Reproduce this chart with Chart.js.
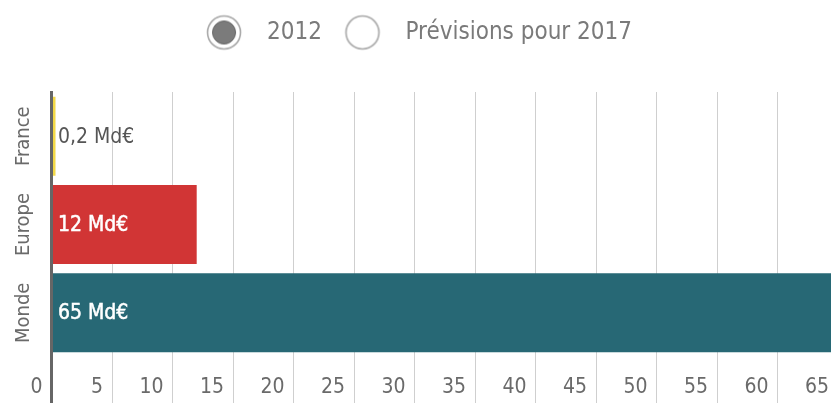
<!DOCTYPE html>
<html>
<head>
<meta charset="utf-8">
<script src="https://cdn.jsdelivr.net/npm/chart.js@4/dist/chart.umd.min.js"></script>
<style>
  html, body { margin: 0; padding: 0; background: #fff; overflow: hidden; }
  #wrap { width: 838px; height: 403px; }
</style>
</head>
<body>
<div id="wrap"><canvas id="myChart" width="838" height="403"></canvas></div>
<script>
const categories = ['France', 'Europe', 'Monde'];
const values2012 = [0.2, 12, 65];
const valueLabels = ['0,2 Md€', '12 Md€', '65 Md€'];
const barColors = ['#f2d847', '#d13535', '#276875'];
const labelColors = ['#555555', '#ffffff', '#ffffff'];
const legendLabels = ['2012', 'Prévisions pour 2017'];

const FONT = '"Liberation Sans Narrow", "DejaVu Sans Condensed", sans-serif';

// radio button icons for the legend
function radioIcon(selected) {
  const c = document.createElement('canvas');
  c.width = 38;
  c.height = 38;
  const ctx = c.getContext('2d');
  ctx.beginPath();
  ctx.arc(19, 19, 16.5, 0, Math.PI * 2);
  ctx.fillStyle = '#fff';
  ctx.fill();
  ctx.lineWidth = 1.6;
  ctx.strokeStyle = '#a8a8a8';
  ctx.stroke();
  if (selected) {
    ctx.beginPath();
    ctx.arc(19, 19, 11.5, 0, Math.PI * 2);
    ctx.fillStyle = '#7b7b7b';
    ctx.fill();
    ctx.lineWidth = 1;
    ctx.strokeStyle = '#666';
    ctx.stroke();
  }
  return c;
}
const icons = [radioIcon(true), radioIcon(false)];

const extraPlugin = {
  id: 'extras',
  beforeLayout(chart) {
    const legend = chart.legend;
    if (legend && !legend._patched) {
      const fit = legend.fit;
      legend.fit = function () {
        fit.call(this);
        this.height += 37.5;
      };
      legend._patched = true;
    }
  },
  afterLayout(chart) {
    // the reference legend sits a bit left of the canvas centre
    chart.legend.left -= 6.5;
    chart.legend.right -= 6.5;
  },
  afterDatasetsDraw(chart) {
    const ctx = chart.ctx;
    const meta = chart.getDatasetMeta(0);
    ctx.save();
    ctx.textBaseline = 'middle';
    ctx.textAlign = 'left';
    ctx.font = '21px ' + FONT;
    meta.data.forEach((bar, i) => {
      ctx.fillStyle = labelColors[i];
      ctx.fillText(valueLabels[i], bar.base + 5, bar.y + 1);
      if (i > 0) {
        ctx.lineWidth = 0.5;
        ctx.strokeStyle = labelColors[i];
        ctx.strokeText(valueLabels[i], bar.base + 5, bar.y + 1);
      }
    });
    ctx.restore();
  },
  afterDraw(chart) {
    const ctx = chart.ctx;
    const y = chart.scales.y;
    ctx.save();
    ctx.font = '20px ' + FONT;
    ctx.fillStyle = '#6a6a6a';
    ctx.textAlign = 'center';
    ctx.textBaseline = 'middle';
    categories.forEach((cat, i) => {
      ctx.save();
      ctx.translate(24, y.getPixelForValue(i));
      ctx.rotate(-Math.PI / 2);
      ctx.fillText(cat, 0, 0);
      ctx.restore();
    });
    ctx.restore();
  },
};

const chart = new Chart(document.getElementById('myChart'), {
  type: 'bar',
  data: {
    labels: categories,
    datasets: [{
      label: '2012',
      data: values2012,
      backgroundColor: barColors,
      barPercentage: 0.895,
      categoryPercentage: 1,
      minBarLength: 4,
    }],
  },
  options: {
    indexAxis: 'y',
    responsive: false,
    animation: false,
    layout: { padding: { top: 11, left: 0, right: 0, bottom: 0 } },
    plugins: {
      tooltip: { enabled: false },
      legend: {
        position: 'top',
        onClick: null,
        labels: {
          usePointStyle: true,
          pointStyleWidth: 62,
          padding: 9.5,
          color: '#7a7a7a',
          font: { family: FONT, size: 24 },
          generateLabels: () => legendLabels.map((text, i) => ({
            text,
            fontColor: '#7a7a7a',
            pointStyle: icons[i],
            fillStyle: 'transparent',
            strokeStyle: 'transparent',
            lineWidth: 0,
            hidden: false,
            datasetIndex: 0,
          })),
        },
      },
    },
    scales: {
      x: {
        min: 0,
        max: 65,
        afterFit: (s) => { s.height = 46; },
        ticks: {
          stepSize: 5,
          align: 'end',
          labelOffset: -9,
          padding: -28,
          color: '#6a6a6a',
          font: { family: FONT, size: 21 },
        },
        grid: {
          color: (c) => (c.index === 0 ? '#666' : '#cfcfcf'),
          lineWidth: (c) => (c.index === 0 ? 3 : 1),
          tickLength: 46,
        },
        border: { display: false },
      },
      y: {
        afterFit: (s) => { s.width = 51.5; },
        ticks: { display: false },
        grid: { display: false },
        border: { display: true, color: '#666', width: 3 },
      },
    },
  },
  plugins: [extraPlugin],
});
</script>
</body>
</html>
